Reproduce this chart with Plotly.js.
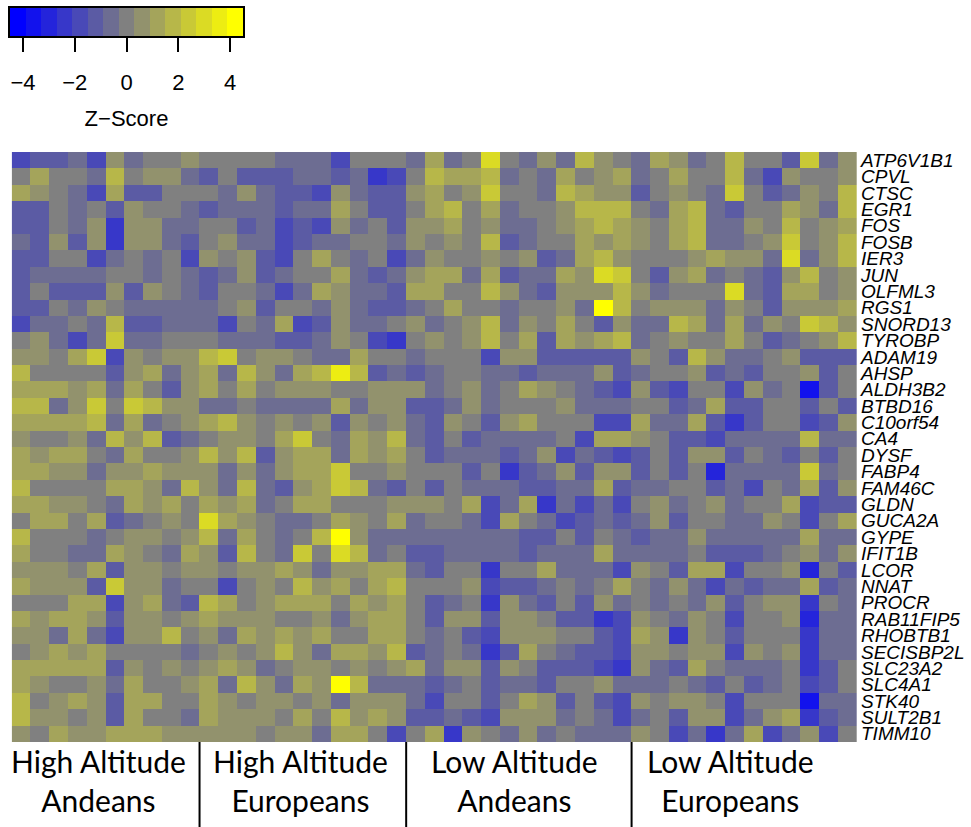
<!DOCTYPE html>
<html>
<head>
<meta charset="utf-8">
<script src="https://cdn.plot.ly/plotly-3.0.1.min.js"></script>
<style>
  html, body { margin: 0; padding: 0; background: #fff; }
  #chart { width: 971px; height: 827px; }
</style>
</head>
<body>
<div id="chart"></div>
<script>
// Gene rows, top to bottom
const genes = ["ATP6V1B1", "CPVL", "CTSC", "EGR1", "FOS", "FOSB", "IER3", "JUN", "OLFML3", "RGS1",
  "SNORD13", "TYROBP", "ADAM19", "AHSP", "ALDH3B2", "BTBD16", "C10orf54", "CA4", "DYSF", "FABP4",
  "FAM46C", "GLDN", "GUCA2A", "GYPE", "IFIT1B", "LCOR", "NNAT", "PROCR", "RAB11FIP5", "RHOBTB1",
  "SECISBP2L", "SLC23A2", "SLC4A1", "STK40", "SULT2B1", "TIMM10"];

// Sample groups shown under the heatmap (two lines each)
const groups = [
  ["High Altitude", "Andeans"],
  ["High Altitude", "Europeans"],
  ["Low Altitude", "Andeans"],
  ["Low Altitude", "Europeans"]
];

// Z-scores per gene (rows) and sample (columns), one block per group
const highAndeans = [
  [-1.8,-1.2,-1.2,-0.6,-1.8,0.6,-0.6,0,0,0.6],
  [0,1.2,0,0,-0.6,1.8,0,0.6,0.6,-0.6],
  [1.2,0.6,0,-0.6,-1.8,1.2,-1.2,-1.2,0,0],
  [-1.2,-1.2,0,-0.6,0,-1.2,0.6,0,0,-0.6],
  [-1.2,-1.2,0,-0.6,0.6,-2.4,0.6,0.6,-0.6,-0.6],
  [-0.6,-1.2,0.6,-1.2,0.6,-2.4,0.6,0.6,-0.6,-1.2],
  [-1.2,-1.2,0,0,-1.8,-0.6,0,-0.6,0,-1.8],
  [-1.2,-0.6,-0.6,-0.6,-0.6,0,0,-0.6,0,-0.6],
  [-1.2,0,-1.2,-1.2,-1.2,0.6,-1.2,0.6,0,-0.6],
  [-1.2,-1.2,0,-0.6,0.6,0,-0.6,-0.6,-0.6,-0.6],
  [-1.8,-0.6,-0.6,0,-0.6,1.8,-1.2,-1.2,-0.6,-0.6],
  [0,0.6,-0.6,-1.8,-0.6,2.4,-0.6,-0.6,0,0],
  [0.6,0.6,0,1.2,2.4,-1.8,0.6,0,0.6,0.6],
  [1.8,0,0,0,0,-1.2,0.6,1.2,-0.6,0.6],
  [1.2,1.2,1.2,0.6,1.2,-0.6,1.2,0,-1.2,0.6],
  [1.8,1.8,-0.6,0.6,2.4,0,2.4,1.8,0.6,0.6],
  [1.2,1.2,1.2,1.2,1.8,-0.6,1.2,-0.6,0,0.6],
  [0.6,0,0,0.6,-0.6,1.8,0.6,1.8,-1.2,-0.6],
  [1.2,0.6,1.2,1.2,0,-0.6,1.2,0,0,0.6],
  [1.2,1.2,0.6,0.6,-0.6,0.6,0.6,1.2,0.6,0.6],
  [1.8,0,0,0,0,1.2,1.2,0.6,-0.6,1.8],
  [1.2,1.2,0.6,0.6,0,-0.6,1.2,0.6,1.2,0],
  [0,1.2,1.2,0,1.2,-1.2,-0.6,0,0.6,0],
  [1.8,0,0,0,-0.6,0,0.6,0.6,0,0.6],
  [1.2,0,0,-0.6,-0.6,1.2,0.6,0,-0.6,1.2],
  [0.6,0.6,0.6,0,1.2,-1.2,0.6,0.6,0,0.6],
  [1.2,0.6,0.6,0.6,-1.2,2.4,0.6,0.6,-0.6,0],
  [0,0,0,1.2,1.2,-1.8,0.6,1.2,-0.6,-1.2],
  [1.2,0.6,1.2,1.2,0.6,-1.2,0.6,0.6,0,0.6],
  [0.6,0.6,-0.6,1.2,-0.6,-1.8,0.6,0.6,1.8,0],
  [0,0.6,1.2,0.6,1.2,0,0,0,0,-0.6],
  [1.2,1.2,1.2,1.2,1.2,-1.2,0.6,0,0.6,0],
  [1.2,0.6,0,0,0.6,-0.6,1.2,0,0,0.6],
  [1.8,0,0.6,1.2,0.6,-1.2,1.2,1.2,0,0],
  [1.8,0.6,0.6,0,0.6,-1.2,1.2,0,0,-0.6],
  [0.6,0,1.2,0.6,0.6,1.2,1.2,1.2,0.6,0.6]
];

const highEuropeans = [
  [0,0,0,0,-0.6,-0.6,-0.6,-1.8,0,0,0],
  [-1.2,0,-1.2,-1.2,-1.2,-0.6,-0.6,-1.2,-0.6,-2.4,-1.8],
  [0,-0.6,0.6,-0.6,-1.2,-1.2,-1.8,0.6,-0.6,-1.2,-1.2],
  [-1.2,-0.6,-0.6,-0.6,-1.2,-0.6,-0.6,1.2,0,-1.2,-1.2],
  [0,0,-1.2,-0.6,-1.8,-1.2,-1.8,0.6,-0.6,0,-1.2],
  [0,0.6,-0.6,-0.6,-1.8,-1.2,-0.6,-0.6,0,0,-0.6],
  [0.6,0,0.6,-1.2,-1.8,0,1.2,0,-0.6,0,-1.8],
  [-1.2,-0.6,0.6,-1.2,-0.6,0,0,1.2,-0.6,-1.2,-0.6],
  [-1.2,0,0,-0.6,-1.8,-0.6,1.2,0.6,-0.6,-0.6,-1.2],
  [-0.6,0,0.6,-1.2,0,0,-0.6,0.6,-0.6,-1.2,-1.2],
  [-0.6,-1.8,0,-0.6,1.2,-1.8,-1.2,0.6,-0.6,-0.6,0],
  [0,-0.6,-0.6,-0.6,-1.2,-1.2,-0.6,0.6,0,-1.8,-2.4],
  [1.8,2.4,0,0.6,0.6,0,-0.6,-0.6,1.2,0,0],
  [1.2,-0.6,1.8,0.6,-0.6,1.2,1.8,3.6,1.8,-1.2,-0.6],
  [1.2,0,1.2,0,0.6,0.6,0.6,0,0,0.6,0.6],
  [-0.6,-0.6,0,-0.6,-0.6,-0.6,-0.6,1.2,-0.6,0.6,0.6],
  [1.2,1.8,0.6,0,0.6,0,0.6,-1.2,0.6,0,0.6],
  [0,0.6,0.6,0,1.2,2.4,0,-0.6,1.2,0.6,1.8],
  [1.8,0.6,1.8,-1.2,0.6,1.2,1.2,-0.6,1.2,0.6,1.2],
  [0.6,-0.6,0.6,-0.6,0.6,1.2,1.2,2.4,0,0,0.6],
  [0.6,-0.6,1.8,-0.6,-1.2,0.6,1.2,2.4,1.8,-0.6,-1.2],
  [1.2,0.6,1.2,-0.6,0,1.2,1.2,0,0,0,0.6],
  [3,1.2,0.6,0,-0.6,-0.6,0,1.2,0.6,0,1.2],
  [1.8,-0.6,1.2,0,-0.6,0,1.8,4.2,0.6,-0.6,-0.6],
  [0.6,-1.2,1.8,0,-0.6,2.4,0,3,1.8,-0.6,0],
  [0.6,0,0.6,0.6,1.2,0.6,-0.6,0.6,0.6,1.2,1.2],
  [0,-1.8,0,0.6,0,1.8,0.6,1.2,0,1.2,1.8],
  [1.8,1.2,0,0.6,1.2,1.2,1.2,0,1.2,0.6,1.2],
  [1.2,0.6,0.6,0.6,0,0,0.6,-0.6,0.6,1.2,1.2],
  [0.6,-0.6,1.2,0.6,1.2,0.6,1.2,0,0,1.2,1.2],
  [0,0.6,0,0.6,1.8,0.6,-0.6,1.2,1.2,0.6,1.8],
  [0.6,1.2,0.6,-0.6,0,0.6,0.6,0,0.6,0,0.6],
  [1.2,-0.6,1.8,0.6,-0.6,1.2,0.6,4.2,1.8,-0.6,-0.6],
  [1.2,0.6,0,0.6,0.6,0,0.6,-0.6,0.6,0.6,0.6],
  [1.2,0.6,0.6,0.6,0,1.2,0,1.8,0.6,1.2,0.6],
  [0.6,0.6,0.6,0,0.6,0.6,-0.6,1.2,1.2,0,-1.8]
];

const lowAndeans = [
  [-0.6,1.2,-0.6,0,3,0,-0.6,0.6,-0.6,1.8,0.6,0],
  [0,1.8,1.2,1.2,1.8,-0.6,0,-0.6,1.2,0,0.6,1.2],
  [0.6,1.2,0,0.6,2.4,0,0,-0.6,1.8,1.2,0.6,0.6],
  [0,1.2,1.8,0,1.2,-0.6,0,0,0.6,1.8,1.8,1.8],
  [0.6,0.6,1.2,0,0.6,-0.6,-0.6,0,0.6,1.2,1.8,1.2],
  [0.6,0,0.6,0,1.8,-1.2,-0.6,0,0,1.2,0.6,1.2],
  [-0.6,0.6,0,0,0.6,0,0.6,-1.2,-0.6,1.2,1.8,0.6],
  [0.6,1.2,1.2,-0.6,1.2,-1.2,-0.6,-0.6,1.2,0.6,3,2.4],
  [1.2,1.2,0,0,1.8,0.6,-0.6,-1.2,0.6,0.6,0.6,1.8],
  [-0.6,0,1.2,0,0,-0.6,0,0,0.6,-0.6,4.2,1.8],
  [0.6,-0.6,0,0.6,1.8,-0.6,0.6,0,1.2,0,-1.2,0.6],
  [0,0.6,0,0.6,1.8,0,1.2,-1.2,1.2,0.6,1.2,1.8],
  [-0.6,0,0,0,-1.8,0.6,0.6,-1.2,-1.2,-1.2,-1.2,-1.2],
  [-1.2,-0.6,0,0,-0.6,-0.6,-1.2,-0.6,-0.6,-0.6,0.6,-1.2],
  [0.6,-0.6,0,0.6,-0.6,0,1.2,0.6,0,-0.6,-1.2,-1.8],
  [-1.2,-1.2,-0.6,0.6,-0.6,0,0,0,0.6,-0.6,-0.6,-0.6],
  [-0.6,-1.2,0.6,0,-1.2,0.6,1.2,0,0,0,-1.8,-1.8],
  [-0.6,-1.2,0,-1.2,-0.6,-0.6,-0.6,-0.6,0,-1.8,1.2,1.2],
  [0,-1.2,-0.6,-0.6,-0.6,-1.2,-0.6,0.6,-1.8,-0.6,-1.2,-1.8],
  [0,0,0,-1.2,0,-2.4,-1.2,-0.6,0.6,-1.2,0.6,0.6],
  [0,-1.2,0,-0.6,-0.6,-0.6,-1.2,-1.2,-0.6,-0.6,1.2,-1.2],
  [0.6,0.6,0,1.2,-1.8,-0.6,1.2,-2.4,-0.6,-1.8,-0.6,-1.8],
  [-0.6,0,0,-0.6,-1.8,1.2,0,-0.6,-1.8,-1.2,-0.6,-1.2],
  [-0.6,-0.6,-0.6,-0.6,-0.6,-0.6,-1.2,-1.2,0,-1.2,0,-0.6],
  [-1.2,-1.2,-0.6,-0.6,-0.6,-0.6,-1.2,-0.6,-0.6,-0.6,1.2,-0.6],
  [-0.6,-1.2,0,0,-2.4,0,0,1.2,-0.6,-0.6,-0.6,-1.8],
  [0,0,0,0.6,-1.8,-1.2,-1.2,-0.6,0,-0.6,0,1.2],
  [0,-1.2,-0.6,0,-2.4,0.6,-0.6,-1.2,0,-1.2,0.6,-0.6],
  [0,-1.2,0.6,0.6,-1.2,0.6,0.6,0,-1.2,-1.2,-2.4,-1.8],
  [0,-0.6,0,-1.2,-1.8,0.6,0.6,0.6,0,0,-1.2,-1.8],
  [-1.2,-0.6,0,-0.6,-2.4,-1.2,1.2,0,-0.6,-1.2,-1.2,-1.8],
  [1.2,-0.6,0.6,0.6,-1.2,0.6,0,-1.2,-1.2,-1.2,-1.8,-2.4],
  [-0.6,-1.2,-0.6,0,-1.2,-0.6,-0.6,-1.2,0,0,0.6,-0.6],
  [-0.6,-1.8,0,0,-1.2,0,1.2,0.6,-1.2,0,-1.2,-1.8],
  [-1.2,-1.2,-0.6,-1.2,-1.8,0.6,0.6,0.6,-0.6,0,-0.6,-1.8],
  [0,1.2,-2.4,0.6,0,-0.6,0.6,-0.6,0,-0.6,-0.6,-0.6]
];

const lowEuropeans = [
  [-0.6,1.2,0.6,-0.6,0,1.8,0,0,-1.2,2.4,-0.6,0.6],
  [-0.6,0,1.2,0,0,1.8,-0.6,-1.8,0.6,0,0,0.6],
  [-1.2,0,0.6,0,-0.6,2.4,0,-1.2,-0.6,0.6,0,1.8],
  [0,-0.6,1.2,1.8,-0.6,-1.2,0,0,1.2,0.6,-0.6,1.8],
  [0.6,0,1.2,1.8,-0.6,-0.6,0.6,0,1.8,0,0.6,1.2],
  [0.6,0,1.2,1.8,-0.6,-0.6,0,0.6,2.4,0,0.6,1.8],
  [0,0,0,0.6,1.2,0.6,0.6,-0.6,3,-0.6,0.6,1.8],
  [0,-1.2,0.6,1.2,-0.6,0,-0.6,-1.2,0.6,1.8,0,0.6],
  [0.6,-0.6,0,0,0,3,-0.6,-1.2,1.2,1.2,0,0.6],
  [0,0.6,0.6,0.6,-0.6,0.6,0,-1.2,0.6,0.6,0.6,1.2],
  [-0.6,-0.6,1.8,1.2,-0.6,1.2,-0.6,0.6,0,2.4,1.8,0.6],
  [-0.6,0,0.6,0,0,1.2,0,-1.2,-0.6,0,0.6,1.8],
  [0.6,0,-1.2,1.8,0.6,-0.6,-0.6,0,0.6,-1.2,-1.2,-1.2],
  [-0.6,0,0,0.6,-1.2,-0.6,-1.2,0,0,0.6,-1.2,0],
  [0.6,-1.2,-1.8,0,0,-1.8,0.6,-0.6,0,-3.6,-1.2,0],
  [0,0,-1.2,-0.6,1.2,-1.2,-1.2,0,0,-1.2,0,-1.2],
  [1.2,-0.6,-0.6,1.2,-1.2,-2.4,-1.2,0,0,-1.8,-1.2,0.6],
  [0.6,0,-1.2,-1.2,-1.8,-0.6,-0.6,-0.6,-0.6,1.8,-0.6,-0.6],
  [-1.2,0,-1.2,0.6,0.6,-1.2,0,-0.6,-1.2,0,-1.2,0],
  [-1.2,0,-1.2,0,-3,-0.6,-0.6,-0.6,-0.6,2.4,-0.6,0],
  [-0.6,-0.6,0,0,-1.2,-0.6,-1.8,0,-0.6,1.2,-1.2,0.6],
  [0,0.6,-0.6,0,0.6,-0.6,0,0,1.2,-1.8,-1.2,-1.2],
  [-0.6,0.6,-1.2,0,0,-0.6,-0.6,0.6,0,-1.8,0,1.2],
  [-1.2,-0.6,-0.6,0.6,-0.6,-0.6,-0.6,-0.6,-0.6,1.2,-0.6,-0.6],
  [-0.6,-0.6,-0.6,0,-1.2,-1.2,-1.2,-0.6,0,0.6,-0.6,0.6],
  [0.6,0,-1.2,1.2,1.2,-1.8,0,0,0.6,-3,0,-1.2],
  [0,-0.6,0.6,-0.6,-1.8,-0.6,-1.2,-0.6,-0.6,1.2,-1.2,-0.6],
  [0,-0.6,0,-0.6,0.6,-1.2,0,0.6,0.6,-2.4,0,-0.6],
  [0.6,0,-0.6,0.6,0,-1.8,0,0,0.6,-3,-0.6,-0.6],
  [1.2,0.6,-2.4,0.6,0,-1.2,0,0,0,-2.4,-0.6,-0.6],
  [0.6,0.6,0,0.6,0.6,-1.8,0.6,0,0.6,-2.4,-0.6,-0.6],
  [0.6,-0.6,-1.2,1.2,0,-0.6,-0.6,-0.6,0,-2.4,-1.2,0],
  [-0.6,-0.6,0,-0.6,-1.2,0,-1.2,-0.6,0,-1.8,-1.2,0],
  [0.6,0,0.6,0.6,0,-1.8,0,0,0,-3.6,-0.6,-0.6],
  [-0.6,0,-1.2,0.6,0.6,-1.8,-0.6,0.6,1.2,-2.4,-1.2,-0.6],
  [0.6,0,-1.8,-0.6,-2.4,-0.6,1.2,-1.8,-0.6,0.6,-1.8,0]
];

const groupBlocks = [highAndeans, highEuropeans, lowAndeans, lowEuropeans];

// Colour key: 15 bins of 0.6 between -4.5 and 4.5 (bin centres)
const keyBins = [-4.2, -3.6, -3.0, -2.4, -1.8, -1.2, -0.6, 0, 0.6, 1.2, 1.8, 2.4, 3.0, 3.6, 4.2];
const keyTicks = [-4, -2, 0, 2, 4];
const binColors = ["#0000FF", "#1212ED", "#2424DB", "#3737C9", "#4949B7", "#5B5BA4", "#6D6D92",
  "#808080", "#92926D", "#A4A45B", "#B7B749", "#C9C936", "#DBDB24", "#EDED12", "#FFFF00"];

// Stepped colour scale, one flat band per bin
const colorscale = [];
binColors.forEach((c, i) => {
  colorscale.push([i / binColors.length, c]);
  colorscale.push([(i + 1) / binColors.length, c]);
});

// Full matrix: each gene row joins the four group blocks left to right
const z = genes.map((g, i) => groupBlocks.reduce((row, block) => row.concat(block[i]), []));

// Group boundaries in column units
const groupSizes = groupBlocks.map(b => b[0].length);
const boundaries = [];
let acc = 0;
groupSizes.slice(0, -1).forEach(n => { acc += n; boundaries.push(acc - 0.5); });

const heat = {
  type: "heatmap",
  z: z,
  y: genes,
  colorscale: colorscale,
  zmin: -4.5,
  zmax: 4.5,
  showscale: false,
  hoverinfo: "skip",
  xaxis: "x",
  yaxis: "y"
};

const key = {
  type: "heatmap",
  x: keyBins,
  y: [0],
  z: [keyBins],
  colorscale: colorscale,
  zmin: -4.5,
  zmax: 4.5,
  showscale: false,
  hoverinfo: "skip",
  xaxis: "x2",
  yaxis: "y2"
};

const labelX = [0.1039, 0.3424, 0.5962, 0.8501];
const annotations = groups.map((g, i) => ({
  xref: "paper", yref: "paper",
  x: labelX[i], y: -0.053,
  xanchor: "center", yanchor: "middle",
  text: g.join("<br>"),
  showarrow: false,
  font: { family: "Lato, 'Noto Sans', sans-serif", size: 30, color: "#000" }
}));

const shapes = boundaries.map(b => ({
  type: "line",
  xref: "x", yref: "paper",
  x0: b, x1: b, y0: 0, y1: -0.12,
  line: { color: "#000", width: 2 }
}));

const layout = {
  width: 971,
  height: 827,
  margin: { l: 10, r: 114, t: 8, b: 85, pad: 0 },
  paper_bgcolor: "#fff",
  plot_bgcolor: "#fff",
  showlegend: false,
  xaxis: {
    domain: [0.002, 1],
    range: [-0.5, 44.5],
    showticklabels: false, ticks: "", showgrid: false, zeroline: false, showline: false,
    fixedrange: true
  },
  yaxis: {
    domain: [0, 0.8038],
    type: "category",
    autorange: "reversed",
    side: "right",
    tickmode: "array",
    tickvals: genes,
    ticktext: genes,
    ticks: "",
    ticklabelstandoff: 3,
    showgrid: false, zeroline: false, showline: false,
    automargin: false,
    tickfont: { family: "'Liberation Sans', Arial, sans-serif", style: "italic", size: 19, color: "#000" },
    fixedrange: true
  },
  xaxis2: {
    domain: [0, 0.2751],
    anchor: "y2",
    range: [-4.5, 4.5],
    tickmode: "array",
    tickvals: keyTicks,
    ticks: "outside",
    ticklen: 14,
    tickwidth: 2,
    tickcolor: "#000",
    ticklabelstandoff: 12,
    showline: true, mirror: true, linecolor: "#000", linewidth: 2,
    showgrid: false, zeroline: false,
    automargin: false,
    tickfont: { family: "'Liberation Sans', Arial, sans-serif", size: 22, color: "#000" },
    title: { text: "Z\u2212Score", standoff: 16,
             font: { family: "'Liberation Sans', Arial, sans-serif", size: 22, color: "#000" } },
    fixedrange: true
  },
  yaxis2: {
    domain: [0.9619, 1],
    anchor: "x2",
    range: [-0.5, 0.5],
    showticklabels: false, ticks: "",
    showline: true, mirror: true, linecolor: "#000", linewidth: 2,
    showgrid: false, zeroline: false,
    automargin: false,
    fixedrange: true
  },
  annotations: annotations,
  shapes: shapes
};

Plotly.newPlot("chart", [heat, key], layout, { displayModeBar: false, staticPlot: true });
</script>
</body>
</html>
